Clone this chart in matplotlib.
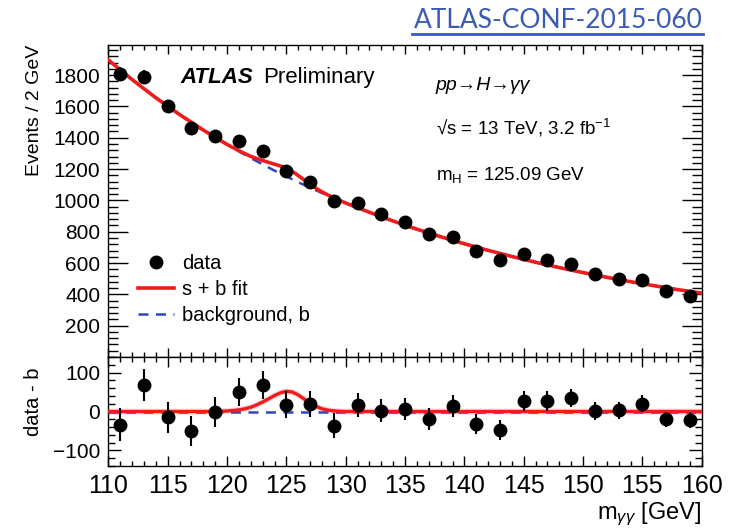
import numpy as np
import matplotlib
matplotlib.use("Agg")
import matplotlib.pyplot as plt
from matplotlib.ticker import MultipleLocator
from matplotlib.lines import Line2D

plt.rcParams['font.family'] = ['Liberation Sans', 'DejaVu Sans']
plt.rcParams['mathtext.fontset'] = 'custom'
plt.rcParams['mathtext.rm'] = 'Liberation Sans'
plt.rcParams['mathtext.it'] = 'Liberation Sans:italic'
plt.rcParams['mathtext.bf'] = 'Liberation Sans:bold'

# ---------------- data ----------------
mass = [111, 113, 115, 117, 119, 121, 123, 125, 127, 129, 131, 133, 135,
        137, 139, 141, 143, 145, 147, 149, 151, 153, 155, 157, 159]
events = [1808, 1788, 1600, 1461, 1414, 1380, 1318, 1187, 1119, 993, 984, 914, 862,
          783, 766, 676, 621, 660, 621, 593, 528, 499, 490, 420, 392]
events_err = [42, 42, 40, 38, 38, 37, 36, 34, 33, 32, 31, 30, 29,
              28, 28, 26, 25, 25, 25, 24, 23, 22, 22, 20, 20]
residual = [-34, 68, -15, -50, -1, 50, 69, 18, 20, -37, 16, 2, 6,
            -20, 14, -32, -48, 27, 27, 35, 1, 3, 20, -20, -22]

bkg_mass = [110, 112, 114, 116, 118, 120, 122, 124, 126, 128, 130, 132, 134,
            136, 138, 140, 142, 144, 146, 148, 150, 152, 154, 156, 158, 160]
bkg_fit = [1896, 1771, 1655, 1548, 1449, 1356, 1270, 1190, 1116, 1047, 983, 924, 868,
           816, 768, 723, 681, 642, 605, 571, 539, 509, 481, 455, 430, 408]

sig_mass = [110, 118.5, 119, 119.5, 120, 120.5, 121, 121.5, 122, 122.5, 123, 123.5,
            124, 124.5, 125, 125.5, 126, 126.5, 127, 127.5, 128, 128.5, 129, 129.5,
            130, 160]
sig_fit = [0, 0, 0.3, 0.7, 1.3, 2.4, 4.2, 7, 11, 17, 24.5, 32.5,
           41, 48, 52, 50, 42.5, 32, 21.5, 13, 7, 3.5, 1.5, 0.5,
           0, 0]

x_ticks = [110, 115, 120, 125, 130, 135, 140, 145, 150, 155, 160]
y_ticks_top = [200, 400, 600, 800, 1000, 1200, 1400, 1600, 1800]
y_ticks_bot = [-100, 0, 100]

# ---------------- figure ----------------
fig = plt.figure(figsize=(7.42, 5.29), dpi=100)
L, W = 0.1461, 0.7996
ax1 = fig.add_axes([L, 0.3251, W, 0.5898])
ax2 = fig.add_axes([L, 0.1191, W, 0.2060], sharex=ax1)

RED = '#ee1c1c'
BLUE = '#2d46c4'

# top panel
sb_mass = sorted(set(bkg_mass) | set(sig_mass))
sb_fit = np.interp(sb_mass, bkg_mass, bkg_fit) + np.interp(sb_mass, sig_mass, sig_fit)
ax1.plot(bkg_mass, bkg_fit, color=BLUE, lw=1.8, ls=(0, (4, 3)), zorder=2)
ax1.plot(sb_mass, sb_fit, color=RED, lw=2.6, zorder=3)
ax1.errorbar(mass, events, yerr=events_err, fmt='o', color='black', ms=9,
             elinewidth=1.5, capsize=0, zorder=4)
ax1.set_xlim(110, 160)
ax1.set_ylim(0, 1992)
ax1.set_yticks(y_ticks_top)
ax1.yaxis.set_minor_locator(MultipleLocator(40))
ax1.xaxis.set_major_locator(MultipleLocator(5))
ax1.xaxis.set_minor_locator(MultipleLocator(1))
ax1.tick_params(axis='x', which='both', direction='in', top=True, bottom=True,
                labelbottom=False)
ax1.tick_params(axis='x', which='major', length=6.5, width=1)
ax1.tick_params(axis='x', which='minor', length=3.3, width=1)
ax1.tick_params(axis='y', which='both', direction='in', left=True, right=True,
                labelsize=15, pad=5.8)
ax1.tick_params(axis='y', which='major', length=14.5, width=1)
ax1.tick_params(axis='y', which='minor', length=7.2, width=1)
ax1.set_ylabel('Events / 2 GeV', fontsize=14, loc='top')
ax1.yaxis.set_label_coords(-0.111, 1.0)

ax1.text(0.121, 0.877, 'ATLAS', transform=ax1.transAxes, fontsize=16,
         fontweight='bold', fontstyle='italic', va='baseline')
ax1.text(0.260, 0.877, 'Preliminary', transform=ax1.transAxes, fontsize=16,
         va='baseline')
ax1.text(0.552, 0.856, 'pp→H→γγ', transform=ax1.transAxes, fontsize=14,
         fontstyle='italic', va='baseline')
ax1.text(0.552, 0.712, '√s = 13 TeV, 3.2 fb$^{-1}$', transform=ax1.transAxes,
         fontsize=13.5, va='baseline')
ax1.text(0.552, 0.568, 'm$_{\\mathregular{H}}$ = 125.09 GeV', transform=ax1.transAxes,
         fontsize=13.5, va='baseline')

handles = [Line2D([], [], marker='o', color='black', ls='none', ms=9),
           Line2D([], [], color=RED, lw=2.6),
           Line2D([], [], color=BLUE, lw=1.8, ls=(0, (4, 3)))]
ax1.legend(handles, ['data', 's + b fit', 'background, b'], loc='upper left',
           bbox_to_anchor=(0.05, 0.33), frameon=False, fontsize=14.5,
           handlelength=1.8, handletextpad=0.4, labelspacing=0.35, borderpad=0,
           borderaxespad=0)

# bottom panel
zero_line = np.array(bkg_fit) - np.array(bkg_fit)
ax2.plot(bkg_mass, zero_line, color=BLUE, lw=1.8, ls=(0, (4, 3)), zorder=2)
ax2.plot(sig_mass, sig_fit, color=RED, lw=4.2, alpha=0.18, zorder=3)
ax2.plot(sig_mass, sig_fit, color=RED, lw=2.4, zorder=3)
ax2.errorbar(mass, residual, yerr=events_err, fmt='o', color='black', ms=9,
             elinewidth=1.5, capsize=0, zorder=4)
ax2.set_ylim(-140, 140)
ax2.set_yticks(y_ticks_bot)
ax2.set_yticklabels(['\u2212100', '0', '100'])
ax2.yaxis.set_minor_locator(MultipleLocator(20))
ax2.set_xticks(x_ticks)
ax2.xaxis.set_minor_locator(MultipleLocator(1))
ax2.tick_params(axis='x', which='both', direction='in', top=True, bottom=True,
                labelsize=18, pad=5.5)
ax2.tick_params(axis='x', which='major', length=7.2, width=1)
ax2.tick_params(axis='x', which='minor', length=3.6, width=1)
ax2.tick_params(axis='y', which='both', direction='in', left=True, right=True,
                labelsize=15, pad=5.8)
ax2.tick_params(axis='y', which='major', length=9.4, width=1)
ax2.tick_params(axis='y', which='minor', length=5, width=1)
ax2.set_ylabel('data - b', fontsize=14.5, loc='top')
ax2.yaxis.set_label_coords(-0.111, 0.9)

fig.text(701.7 / 742, 1 - 519.5 / 529, 'm$_{γγ}$ [GeV]', ha='right', va='baseline',
         fontsize=17)

for ax in (ax1, ax2):
    for s in ax.spines.values():
        s.set_linewidth(1.0)

# reference label
t = fig.text(703 / 742, 1 - 28 / 529, 'ATLAS-CONF-2015-060', ha='right', va='baseline',
             fontsize=19, color='#3b5bb5', family=['Lato', 'DejaVu Sans'])
fig.add_artist(Line2D([412 / 742, 703 / 742], [1 - 34 / 529, 1 - 34 / 529],
                      color='#3b5bb5', lw=2, transform=fig.transFigure))

fig.savefig('out.png', dpi=100)
